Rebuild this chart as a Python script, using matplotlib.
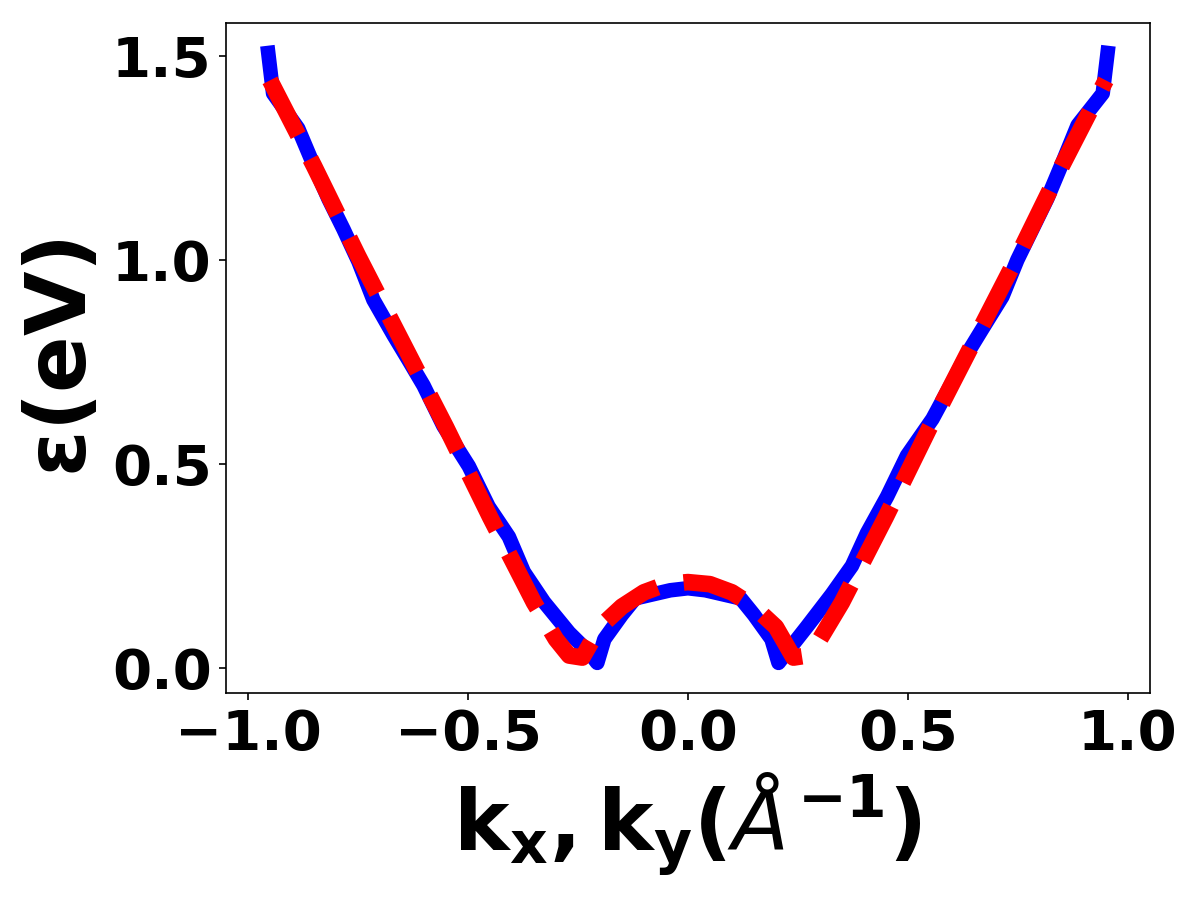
import matplotlib
matplotlib.use("Agg")
import matplotlib.pyplot as plt
import numpy as np

# Blue (solid) band
k_blue = [-0.954, -0.943, -0.886, -0.852, -0.817, -0.783, -0.749, -0.715,
          -0.669, -0.635, -0.601, -0.556, -0.498, -0.453, -0.407, -0.373,
          -0.327, -0.270, -0.224, -0.206, -0.19, -0.17, -0.15, -0.12,
          -0.08, -0.04, 0.0, 0.04, 0.08, 0.12, 0.15, 0.17, 0.19, 0.206,
          0.224, 0.270, 0.327, 0.373, 0.407, 0.453, 0.498, 0.556, 0.601,
          0.635, 0.669, 0.715, 0.749, 0.783, 0.817, 0.852, 0.886, 0.943, 0.954]
e_blue = [1.507, 1.408, 1.322, 1.235, 1.149, 1.075, 0.996, 0.902,
          0.815, 0.754, 0.692, 0.593, 0.494, 0.395, 0.321, 0.235,
          0.161, 0.086, 0.037, 0.012, 0.07, 0.10, 0.13, 0.17,
          0.18, 0.19, 0.195, 0.19, 0.18, 0.17, 0.13, 0.10, 0.07, 0.012,
          0.037, 0.100, 0.180, 0.250, 0.330, 0.420, 0.520, 0.610, 0.700,
          0.770, 0.830, 0.910, 1.000, 1.075, 1.150, 1.240, 1.330, 1.408, 1.507]

# Red (dashed) fit
k_red = [-0.95, -0.85, -0.75, -0.65, -0.55, -0.45, -0.35, -0.30, -0.27,
         -0.24, -0.20, -0.15, -0.10, -0.05, 0.0, 0.05, 0.10, 0.15, 0.20,
         0.24, 0.27, 0.30, 0.35, 0.45, 0.55, 0.65, 0.75, 0.85, 0.95]
e_red = [1.44, 1.23, 1.01, 0.80, 0.59, 0.37, 0.16, 0.07, 0.03,
         0.025, 0.10, 0.15, 0.185, 0.205, 0.21, 0.205, 0.185, 0.15, 0.10,
         0.025, 0.03, 0.07, 0.16, 0.37, 0.59, 0.80, 1.01, 1.23, 1.44]

fig, ax = plt.subplots(figsize=(8, 6), dpi=150)
ax.plot(k_blue, e_blue, color='blue', linewidth=7)
ax.plot(k_red, e_red, color='red', linestyle='--', linewidth=8)

ax.set_xlabel(r'$\mathbf{k_x, k_y(}\mathit{\AA}^{\mathbf{-1}}\mathbf{)}$', fontsize=40)
ax.set_ylabel(r'$\mathbf{\epsilon (eV)}$', fontsize=40, fontweight='bold')
ax.tick_params(labelsize=27)
for lbl in ax.get_xticklabels() + ax.get_yticklabels():
    lbl.set_fontweight('bold')
ax.set_xticks([-1.0, -0.5, 0.0, 0.5, 1.0])
ax.set_yticks([0.0, 0.5, 1.0, 1.5])

plt.tight_layout()
plt.savefig("out.png")
